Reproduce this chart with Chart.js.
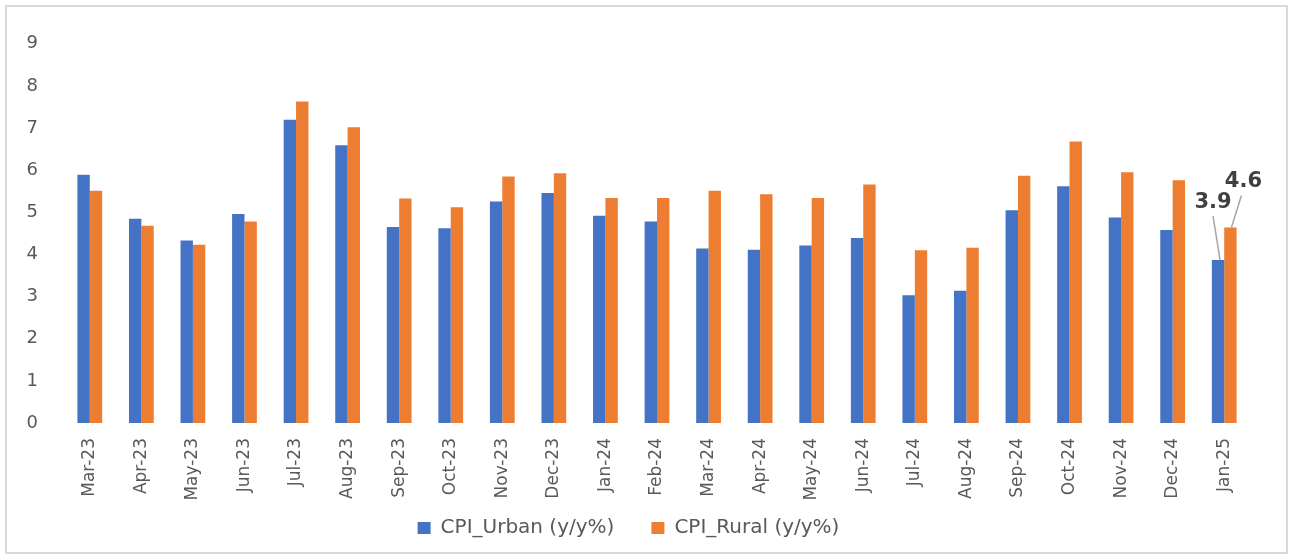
<!DOCTYPE html>
<html>
<head>
    <title>CPI Urban vs Rural</title>
    <script src="https://cdn.jsdelivr.net/npm/chart.js"></script>
    <style>
        body {
            margin: 0;
            background-color: #ffffff;
        }
        .chart-box {
            position: absolute;
            left: 5px;
            top: 5px;
            width: 1283px;
            height: 549px;
            box-sizing: border-box;
            border: 2px solid #d9d9d9;
        }
    </style>
</head>
<body>
    <div class="chart-box">
        <canvas id="cpiChart" width="1279" height="545"></canvas>
    </div>

    <script>
        const months = ['Mar-23', 'Apr-23', 'May-23', 'Jun-23', 'Jul-23', 'Aug-23', 'Sep-23', 'Oct-23',
            'Nov-23', 'Dec-23', 'Jan-24', 'Feb-24', 'Mar-24', 'Apr-24', 'May-24', 'Jun-24', 'Jul-24',
            'Aug-24', 'Sep-24', 'Oct-24', 'Nov-24', 'Dec-24', 'Jan-25'];
        const urban = [5.89, 4.85, 4.33, 4.96, 7.20, 6.59, 4.65, 4.62, 5.26, 5.46, 4.92, 4.78,
            4.14, 4.11, 4.21, 4.39, 3.03, 3.14, 5.05, 5.62, 4.88, 4.58, 3.87];
        const rural = [5.51, 4.68, 4.23, 4.78, 7.63, 7.02, 5.33, 5.12, 5.85, 5.93, 5.34, 5.34,
            5.51, 5.43, 5.34, 5.66, 4.10, 4.16, 5.87, 6.68, 5.95, 5.76, 4.64];
        const yTicks = [0, 1, 2, 3, 4, 5, 6, 7, 8, 9];

        const textColor = '#595959';
        const fontFamily = '"DejaVu Sans", sans-serif';

        // labels with leader lines on the last month only
        const lastLabels = {
            id: 'lastLabels',
            afterDatasetsDraw(chart) {
                const ctx = chart.ctx;
                const last = months.length - 1;
                const u = chart.getDatasetMeta(0).data[last];
                const r = chart.getDatasetMeta(1).data[last];
                ctx.save();
                ctx.strokeStyle = '#a6a6a6';
                ctx.lineWidth = 1.5;
                ctx.beginPath();
                ctx.moveTo(u.x - 5, u.y - 44);
                ctx.lineTo(u.x + 2, u.y);
                ctx.moveTo(r.x + 11, r.y - 32);
                ctx.lineTo(r.x + 1, r.y);
                ctx.stroke();
                ctx.fillStyle = '#404040';
                ctx.font = 'bold 21px ' + fontFamily;
                ctx.textAlign = 'center';
                ctx.textBaseline = 'middle';
                ctx.fillText(urban[last].toFixed(1), u.x - 5, u.y - 57);
                ctx.fillText(rural[last].toFixed(1), r.x + 13, r.y - 46);
                ctx.restore();
            }
        };

        const ctx = document.getElementById('cpiChart').getContext('2d');
        const chart = new Chart(ctx, {
            type: 'bar',
            data: {
                labels: months,
                datasets: [{
                    label: 'CPI_Urban (y/y%)',
                    data: urban,
                    backgroundColor: '#4472C4',
                    categoryPercentage: 0.48,
                    barPercentage: 1.0
                }, {
                    label: 'CPI_Rural (y/y%)',
                    data: rural,
                    backgroundColor: '#ED7D31',
                    categoryPercentage: 0.48,
                    barPercentage: 1.0
                }]
            },
            options: {
                responsive: false,
                animation: false,
                layout: {
                    padding: { left: 0, right: 36, top: 35, bottom: 4 }
                },
                scales: {
                    x: {
                        grid: { display: false, drawTicks: false },
                        border: { display: false },
                        ticks: {
                            color: textColor,
                            font: { family: fontFamily, size: 17 },
                            minRotation: 90,
                            maxRotation: 90,
                            autoSkip: false,
                            padding: 15
                        },
                        afterFit(s) {
                            s.height = 58;
                            // labels run past the short axis box, so don't clip them
                            s._computeLabelArea = () => undefined;
                        }
                    },
                    y: {
                        min: 0,
                        max: 9,
                        grid: { display: false, drawTicks: false },
                        border: { display: false },
                        afterBuildTicks(s) { s.ticks = yTicks.map(v => ({ value: v })); },
                        ticks: {
                            color: textColor,
                            font: { family: fontFamily, size: 18 },
                            padding: 26
                        },
                        afterFit(s) { s.width = 57; }
                    }
                },
                plugins: {
                    legend: {
                        position: 'bottom',
                        labels: {
                            color: textColor,
                            font: { family: fontFamily, size: 20 },
                            boxWidth: 13,
                            boxHeight: 12,
                            padding: 37
                        }
                    },
                    tooltip: { enabled: false }
                }
            },
            plugins: [lastLabels]
        });
    </script>
</body>
</html>
